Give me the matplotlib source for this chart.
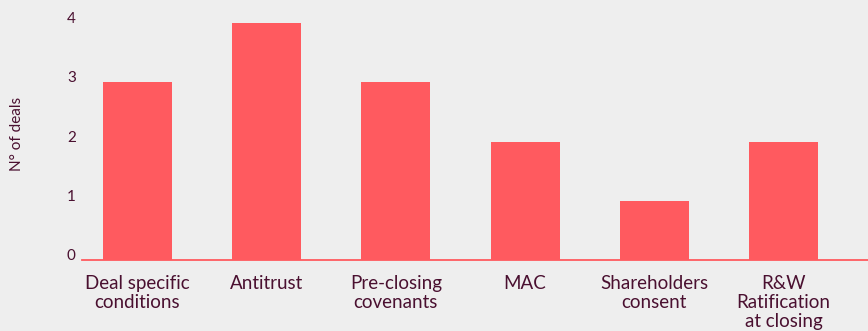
import matplotlib
matplotlib.use("Agg")
import matplotlib.pyplot as plt

categories = ["Deal specific\nconditions", "Antitrust", "Pre-closing\ncovenants", "MAC",
              "Shareholders\nconsent", "R&W\nRatification\nat closing"]
values = [3, 4, 3, 2, 1, 2]
yticks = [0, 1, 2, 3, 4]

bg = "#eeeeee"
bar_color = "#ff5a5f"
text_color = "#4a1030"

plt.rcParams['font.family'] = ['Lato', 'DejaVu Sans']

W, H = 868, 331
fig = plt.figure(figsize=(W / 100, H / 100), dpi=100, facecolor=bg)
ax_left, ax_bottom, ax_top = 82, 260, 23
ax = fig.add_axes([ax_left / W, (H - ax_bottom) / H, 1 - ax_left / W, (ax_bottom - ax_top) / H])
ax.set_facecolor(bg)

x = list(range(len(categories)))
ax.bar(x, values, width=0.534, color=bar_color, zorder=2)
ax.set_xlim(-0.4296, 5.654)
ax.set_ylim(0, 4)
ax.set_yticks(yticks)
ax.set_yticklabels([str(t) for t in yticks])
ax.set_xticks(x)
ax.set_xticklabels(categories, linespacing=1.12)

for s in ["top", "right", "left"]:
    ax.spines[s].set_visible(False)
ax.spines["bottom"].set_color(bar_color)
ax.spines["bottom"].set_linewidth(1.3)

ax.tick_params(axis="x", length=0, colors=text_color, labelsize=13.5, pad=11)
ax.tick_params(axis="y", length=0, colors=text_color, labelsize=11, pad=4.5)
for lbl in ax.get_yticklabels():
    lbl.set_verticalalignment("baseline")

ax.set_ylabel("N° of deals", color=text_color, fontsize=11)
ax.yaxis.set_label_coords((17.5 - ax_left) / (W - ax_left), (ax_bottom - 133.5) / (ax_bottom - ax_top))
ax.yaxis.label.set_verticalalignment("center")

fig.savefig("out.png", dpi=100, facecolor=bg)
